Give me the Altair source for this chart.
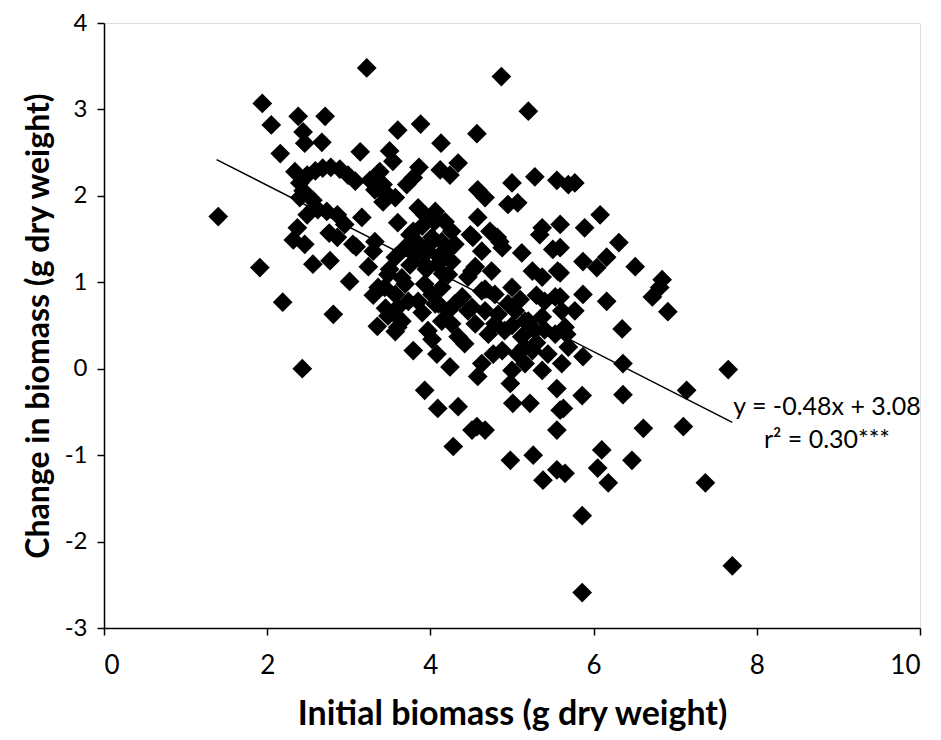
import altair as alt
import pandas as pd

# Initial biomass (g dry weight)
initial = [
    1.40, 1.94, 2.05, 2.16, 2.38, 2.71, 2.44, 2.46, 2.67, 3.14,
    3.22, 4.87, 5.20, 3.60, 3.88, 4.13, 4.57, 3.50, 1.91, 2.19,
    2.43, 2.34, 2.32, 2.56, 2.77, 2.81, 3.01, 3.24, 3.35, 2.86,
    3.05, 3.30, 3.36, 2.37, 2.40, 2.49, 2.73, 2.86, 3.16,
    2.40, 2.49, 2.59, 2.68, 2.78, 2.89, 2.99, 3.08, 3.26, 3.36,
    3.42, 3.32, 3.46, 2.44, 2.56, 2.62, 2.76, 2.95, 3.09, 2.46,
    3.38, 3.42, 3.71, 3.79, 3.86, 3.60, 3.75, 3.54,
    3.44, 3.57, 3.79, 3.85, 3.93, 4.06, 4.18, 4.26, 4.30, 4.26,
    4.22, 4.14, 4.02, 3.93, 3.97, 4.02, 4.14, 4.09, 3.93, 3.81,
    3.69, 3.57, 3.48, 3.44, 3.57, 3.69, 3.73, 3.60, 3.48, 3.65,
    3.85, 4.06, 4.22, 4.30, 4.14, 4.26, 3.60, 3.97, 4.58, 4.73,
    4.49, 4.63, 4.55, 4.75, 4.46, 4.63, 4.79, 4.39, 4.46, 4.67,
    4.55, 4.79, 4.34, 3.32,
    4.58, 4.67, 5.00, 5.28, 5.55, 5.69, 4.95, 5.07, 5.37, 5.59,
    4.88, 5.12, 5.50, 4.51, 5.25, 5.37, 5.56, 5.00, 4.67, 5.53,
    5.40, 4.51, 4.83, 5.04, 5.16, 5.37, 5.61, 4.71, 4.91, 5.12,
    5.28, 5.53, 5.65, 4.88, 5.07, 5.25, 5.44, 4.63, 5.00, 5.16,
    5.37, 5.61, 4.42,
    5.77, 6.08, 5.89, 6.31, 5.87, 6.04, 6.16, 6.51, 6.84, 6.81,
    6.72, 6.91, 5.87, 6.16, 5.77, 6.35, 5.67, 5.59, 5.59, 5.59,
    5.69, 5.87, 6.36, 7.65, 7.14, 5.86, 6.36, 5.63, 6.61, 7.10,
    6.10, 6.05, 6.47, 6.18, 5.65, 7.37, 5.86, 7.70, 5.86,
    3.93, 4.09, 4.34, 4.57, 4.24, 4.58, 4.77, 4.98, 5.01, 5.22,
    5.55, 5.59, 5.55, 4.28, 4.51, 4.67, 4.98, 5.26, 5.38, 5.55,
    3.79, 3.57, 4.08, 4.02,
    4.12, 4.24, 4.34, 4.08, 4.82, 5.34, 4.52, 4.85,
    3.90, 4.00, 4.10, 4.15, 3.95, 3.85, 4.20, 4.05, 3.75, 3.65,
    4.10, 3.90, 5.10, 5.20, 5.30, 5.00, 5.15, 4.95, 5.40, 5.30,
    3.30, 3.45, 3.50,
]

# Change in biomass (g dry weight)
change = [
    1.76, 3.07, 2.82, 2.49, 2.92, 2.92, 2.74, 2.61, 2.62, 2.51,
    3.48, 3.38, 2.98, 2.76, 2.83, 2.61, 2.72, 2.52, 1.17, 0.77,
    0.00, 2.28, 1.49, 1.21, 1.25, 0.63, 1.01, 1.18, 0.49, 1.52,
    1.44, 1.36, 0.94, 1.63, 1.98, 1.78, 1.82, 1.78, 1.75,
    2.15, 2.24, 2.29, 2.32, 2.33, 2.31, 2.24, 2.17, 2.18, 2.26,
    2.13, 2.07, 2.01, 2.06, 1.95, 1.84, 1.57, 1.67, 1.41, 1.44,
    2.28, 1.93, 2.13, 2.21, 2.33, 1.69, 1.55, 2.40,
    2.05, 1.98, 1.59, 1.86, 1.78, 1.82, 1.70, 1.59, 1.44, 1.24,
    1.09, 0.94, 0.86, 0.98, 1.36, 1.52, 1.47, 1.21, 1.21, 1.32,
    1.40, 1.29, 1.09, 0.94, 0.86, 0.98, 0.78, 0.71, 0.61, 0.55,
    0.78, 0.75, 0.67, 0.75, 0.55, 0.52, 0.48, 0.44, 1.75, 1.59,
    1.55, 1.36, 1.18, 1.13, 1.06, 0.90, 0.86, 0.83, 0.67, 0.67,
    0.52, 0.52, 0.37, 1.47,
    2.07, 1.98, 2.15, 2.22, 2.18, 2.13, 1.90, 1.92, 1.63, 1.67,
    1.40, 1.34, 1.38, 1.13, 1.13, 1.06, 1.13, 0.94, 0.92, 0.83,
    0.78, 0.71, 0.63, 0.67, 0.55, 0.60, 0.67, 0.40, 0.44, 0.37,
    0.44, 0.40, 0.48, 0.21, 0.17, 0.21, 0.17, 0.06, -0.02, 0.06,
    -0.02, 0.06, 0.29,
    2.15, 1.78, 1.63, 1.46, 1.24, 1.17, 1.29, 1.18, 1.03, 0.94,
    0.83, 0.66, 0.86, 0.78, 0.67, 0.46, 0.40, 1.40, 1.11, 0.83,
    0.25, 0.14, 0.06, -0.01, -0.25, -0.31, -0.30, -0.46, -0.69, -0.67,
    -0.94, -1.15, -1.06, -1.32, -1.21, -1.32, -1.70, -2.28, -2.59,
    -0.25, -0.46, -0.44, -0.67, 0.02, -0.09, 0.17, -0.17, -0.40, -0.40,
    -0.23, -0.48, -0.71, -0.90, -0.71, -0.71, -1.06, -1.00, -1.29, -1.17,
    0.21, 0.43, 0.17, 0.34,
    2.30, 2.24, 2.38, 1.75, 1.52, 1.55, 1.52, 1.47,
    1.65, 1.45, 1.30, 1.10, 1.15, 1.45, 1.35, 1.70, 1.20, 1.05,
    0.75, 0.65, 0.80, 0.55, 0.30, 0.50, 0.25, 0.75, 0.45, 0.85,
    0.85, 0.70, 1.15,
]

# Fitted regression line (y = -0.48x + 3.08), drawn over the data range
fit_x = [1.38, 7.70]
fit_y = [2.42, -0.62]

equation = ["y = -0.48x + 3.08", "r² = 0.30***"]
eq_x = [8.86, 8.86]
eq_y = [-0.44, -0.83]

FONT = "Lato"

pts = pd.DataFrame({"initial": initial, "change": change})
fit = pd.DataFrame({"initial": fit_x, "change": fit_y})
lab = pd.DataFrame({"initial": eq_x, "change": eq_y, "text": equation})

xscale = alt.Scale(domain=[0, 10], nice=False, zero=False)
yscale = alt.Scale(domain=[-3, 4], nice=False, zero=False)

xaxis = alt.Axis(
    title="Initial biomass (g dry weight)",
    values=[0, 2, 4, 6, 8, 10],
    labelExpr="'' + datum.value",
    grid=False,
    domainColor="#000000",
    domainWidth=1.5,
    tickColor="#000000",
    tickWidth=1.5,
    tickSize=7,
    labelFont=FONT,
    labelFontSize=26,
    labelColor="#000000",
    labelPadding=17,
    titleFont=FONT,
    titleFontSize=34,
    titleFontWeight="bold",
    titleColor="#000000",
    titlePadding=19,
)
yaxis = alt.Axis(
    title="Change in biomass (g dry weight)",
    values=[-3, -2, -1, 0, 1, 2, 3, 4],
    labelExpr="'' + datum.value",
    grid=False,
    domainColor="#000000",
    domainWidth=1.5,
    tickColor="#000000",
    tickWidth=1.5,
    tickSize=7,
    labelFont=FONT,
    labelFontSize=24,
    labelColor="#000000",
    labelPadding=10,
    titleFont=FONT,
    titleFontSize=32,
    titleFontWeight="bold",
    titleColor="#000000",
    titlePadding=9,
)

points = alt.Chart(pts).mark_point(
    shape="diamond", filled=True, size=390, color="#000000", opacity=1
).encode(
    x=alt.X("initial:Q", scale=xscale, axis=xaxis),
    y=alt.Y("change:Q", scale=yscale, axis=yaxis),
)

line = alt.Chart(fit).mark_line(color="#000000", strokeWidth=1.5).encode(
    x=alt.X("initial:Q", scale=xscale),
    y=alt.Y("change:Q", scale=yscale),
)

text = alt.Chart(lab).mark_text(
    font=FONT, fontSize=25, color="#000000", align="center", baseline="middle"
).encode(
    x=alt.X("initial:Q", scale=xscale),
    y=alt.Y("change:Q", scale=yscale),
    text="text:N",
)

chart = (
    alt.layer(points, line, text)
    .properties(
        width=816,
        height=605,
        autosize=alt.AutoSizeParams(type="none"),
        padding={"left": 96, "top": 15, "right": 13, "bottom": 112},
    )
    .configure_view(stroke=None)
    .configure(background="white")
)

chart.save("out.html", embed_options={"renderer": "svg", "actions": False})
